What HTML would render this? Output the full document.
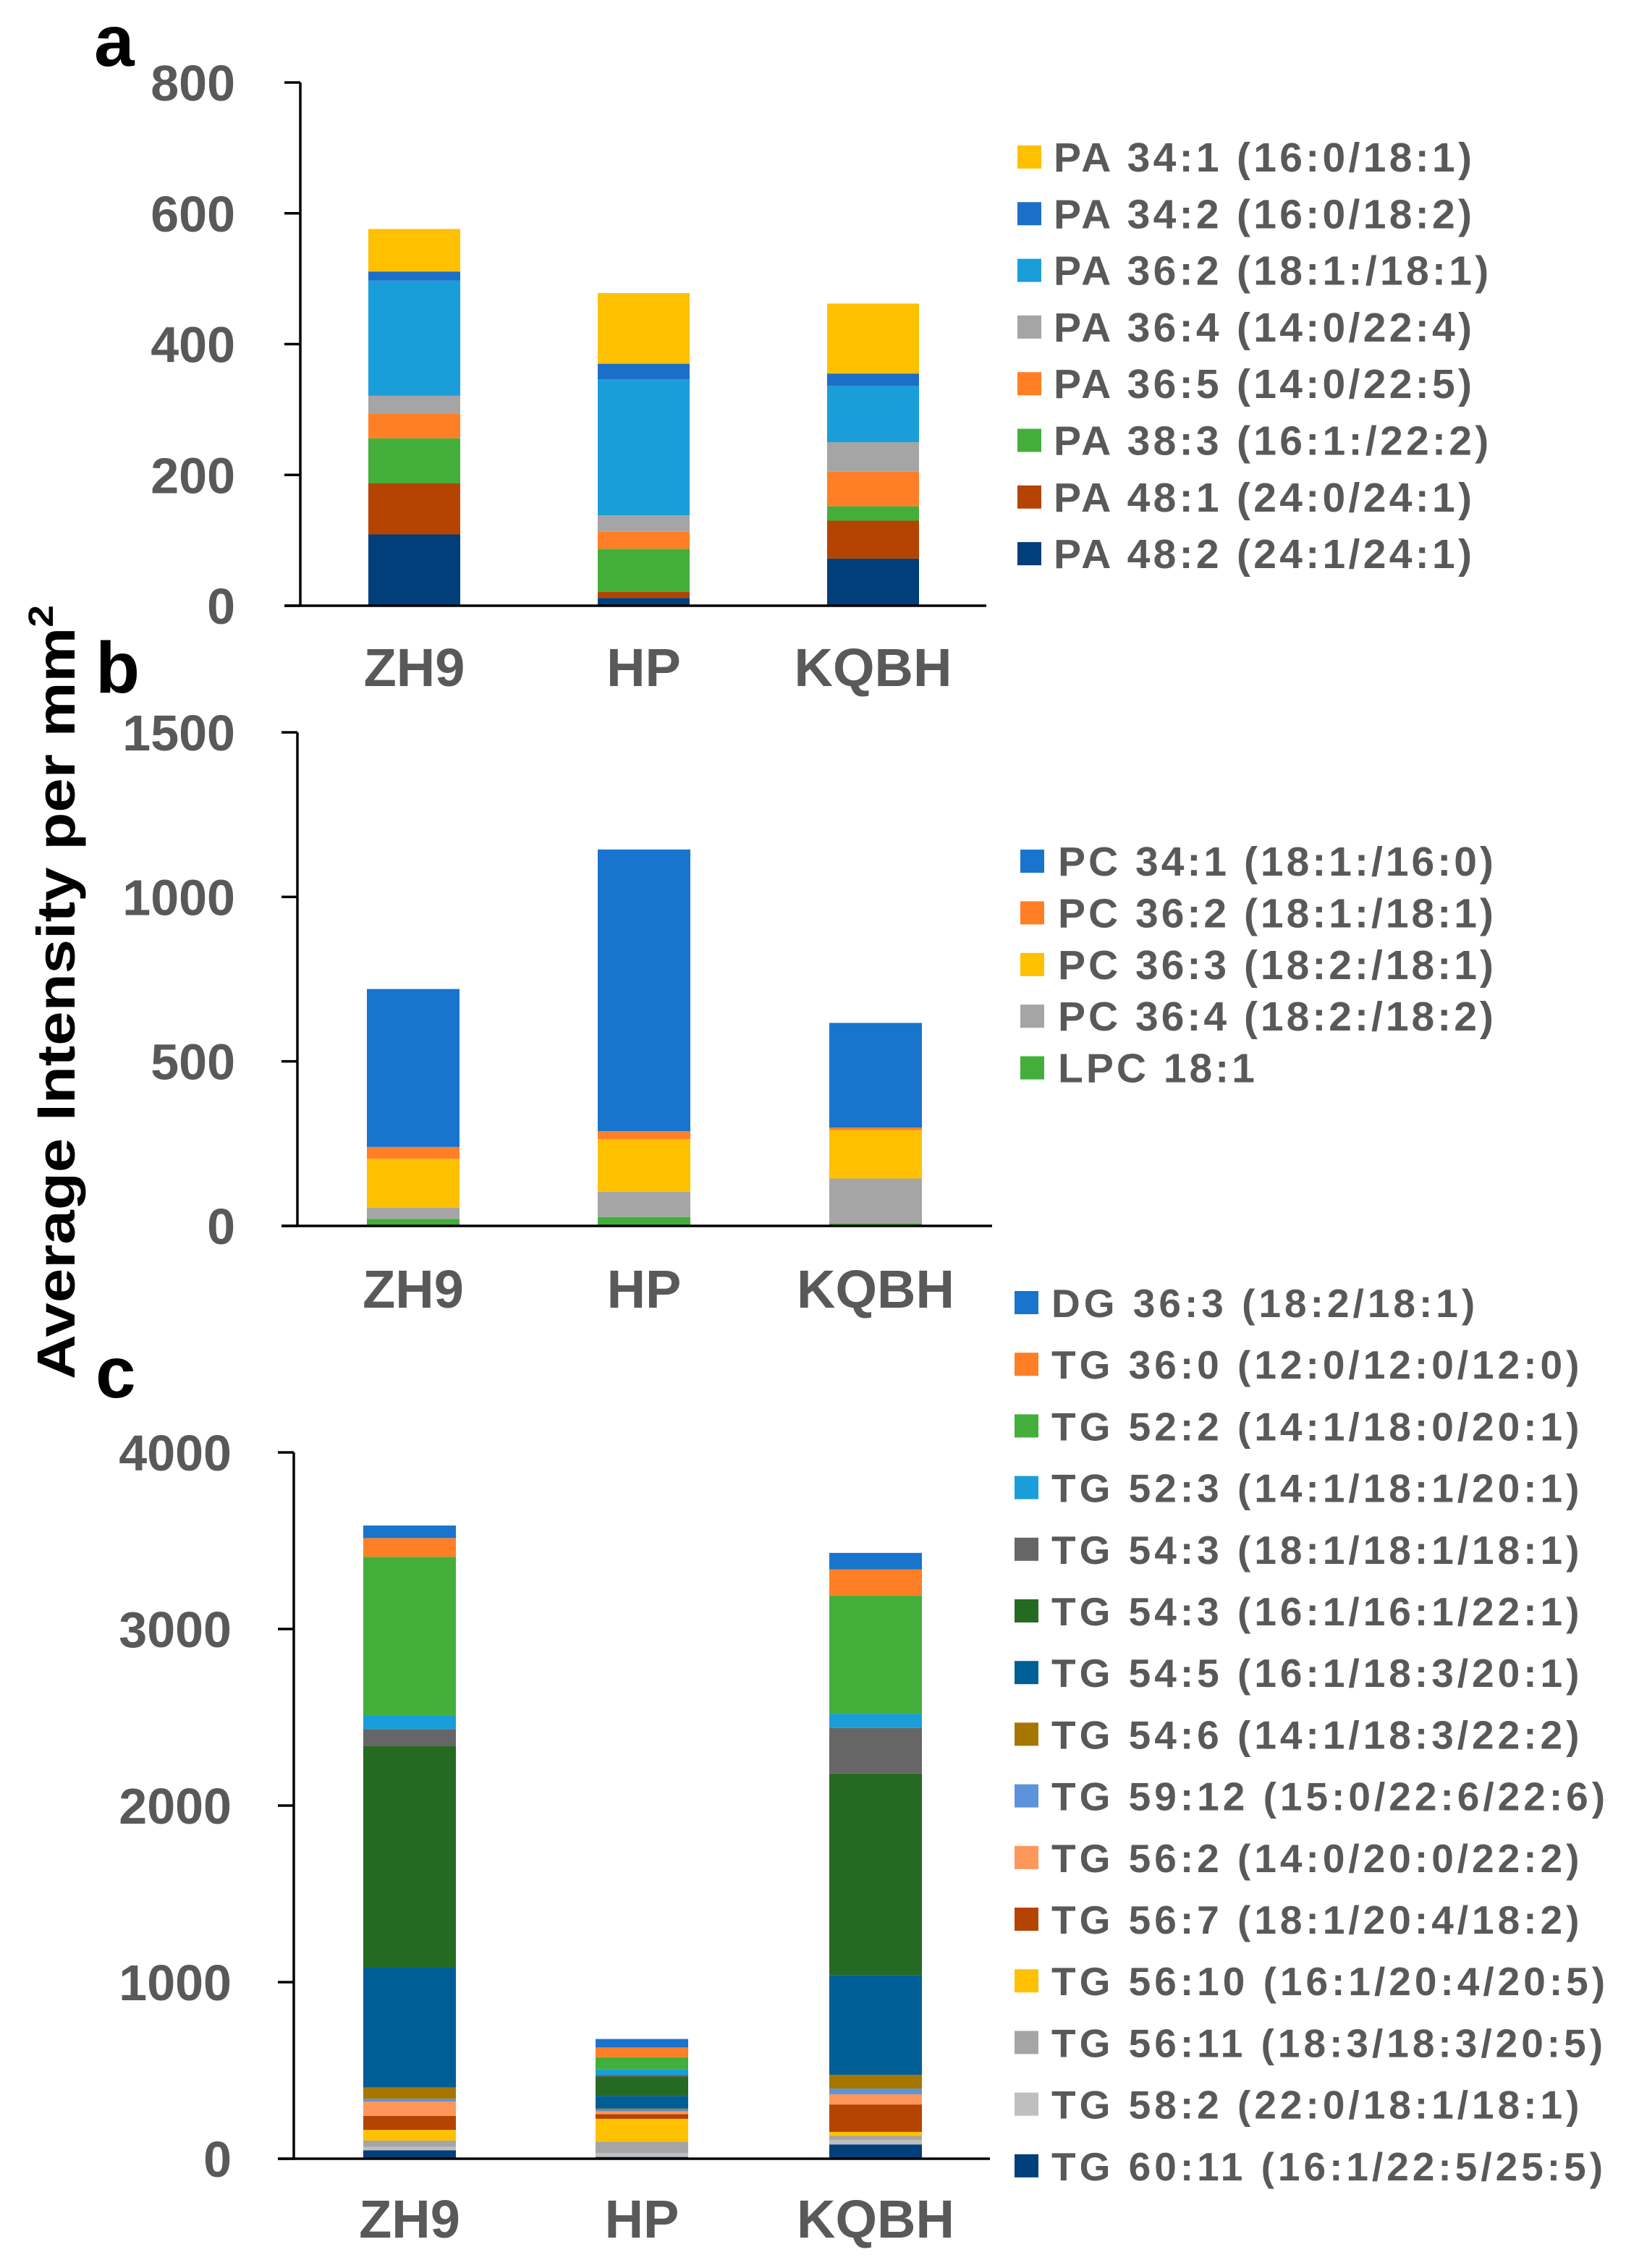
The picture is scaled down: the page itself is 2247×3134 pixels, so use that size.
<!DOCTYPE html>
<html><head><meta charset="utf-8"><style>
html,body{margin:0;padding:0;background:#fff;}
svg{display:block;}
text{font-family:"Liberation Sans",Arial,sans-serif;font-weight:bold;}
</style></head>
<body>
<svg id="fig" width="2247" height="3134" viewBox="0 0 2247 3134" xmlns="http://www.w3.org/2000/svg">
<text x="0" y="0" font-size="74" fill="#000" transform="translate(103,1906) rotate(-90)" textLength="1070" lengthAdjust="spacingAndGlyphs">Average Intensity  per mm<tspan font-size="48" dy="-30">2</tspan></text>
<text x="130" y="91" font-size="100" fill="#000">a</text>
<text x="132" y="957" font-size="100" fill="#000">b</text>
<text x="132" y="1931" font-size="100" fill="#000">c</text>
</svg>
<script>
const categories = ["ZH9","HP","KQBH"];
// Panel a (bottom-up order)
const paSeries = ["PA 48:2 (24:1/24:1)","PA 48:1 (24:0/24:1)","PA 38:3 (16:1:/22:2)","PA 36:5 (14:0/22:5)","PA 36:4 (14:0/22:4)","PA 36:2 (18:1:/18:1)","PA 34:2 (16:0/18:2)","PA 34:1 (16:0/18:1)"];
const paColors = ["#003F7A","#B54402","#43AF3A","#FF7F27","#A5A5A5","#1A9ED9","#1C6FC8","#FFC000"];
const paZH9 = [109,78,69,38,27,176,14,65];
const paHP = [12,9,66,26,25,208,24,108];
const paKQBH = [72,58,22,53,45,86,19,107];
const paTicks = [0,200,400,600,800];
// Panel b
const pcSeries = ["LPC 18:1","PC 36:4 (18:2:/18:2)","PC 36:3 (18:2:/18:1)","PC 36:2 (18:1:/18:1)","PC 34:1 (18:1:/16:0)"];
const pcColors = ["#43AF3A","#A5A5A5","#FFC000","#FF7F27","#1874CD"];
const pcZH9 = [21,34,149,36,480];
const pcHP = [27,77,160,24,856];
const pcKQBH = [8,136,147,8,318];
const pcTicks = [0,500,1000,1500];
// Panel c
const tgSeries = ["TG 60:11 (16:1/22:5/25:5)","TG 58:2 (22:0/18:1/18:1)","TG 56:11 (18:3/18:3/20:5)","TG 56:10 (16:1/20:4/20:5)","TG 56:7 (18:1/20:4/18:2)","TG 56:2 (14:0/20:0/22:2)","TG 59:12 (15:0/22:6/22:6)","TG 54:6 (14:1/18:3/22:2)","TG 54:5 (16:1/18:3/20:1)","TG 54:3 (16:1/16:1/22:1)","TG 54:3 (18:1/18:1/18:1)","TG 52:3 (14:1/18:1/20:1)","TG 52:2 (14:1/18:0/20:1)","TG 36:0 (12:0/12:0/12:0)","DG 36:3 (18:2/18:1)"];
const tgColors = ["#003F7A","#BFBFBF","#A5A5A5","#FFC000","#B54402","#FF975A","#5C93DB","#A77600","#005E96","#256A23","#666666","#1A9ED9","#43AF3A","#FF7F27","#1874CD"];
const tgZH9 = [48,20,35,60,80,80,16,65,678,1254,97,77,899,106,71];
const tgHP = [10,22,65,129,26,16,8,8,71,110,10,32,68,55,48];
const tgKQBH = [81,25,23,23,155,58,32,78,565,1141,258,81,669,149,93];
const tgTicks = [0,1000,2000,3000,4000];

const NS = "http://www.w3.org/2000/svg";
const svg = document.getElementById("fig");
function mk(tag, attrs, parent){
  const e = document.createElementNS(NS, tag);
  for (const k in attrs) e.setAttribute(k, attrs[k]);
  (parent||svg).appendChild(e);
  return e;
}

function panel(cfg){
  const g = mk("g", {});
  
  
  const max = cfg.ticks[cfg.ticks.length-1];
  const yScale = v => cfg.y0 - (v/max)*(cfg.y0-cfg.yTop);
  cfg.values.forEach((vals, ci) => {
    let cum = 0;
    const left = cfg.barX[ci];
    vals.forEach((v, si) => {
      const yb = yScale(cum), yt = yScale(cum+v);
      cum += v;
      const r = mk("rect", {x:left, y:yt, width:cfg.barW, height:Math.max(0,yb-yt), fill:cfg.colors[si]}, g);
      
      
    });
    const t = mk("text", {x:left+cfg.barW/2, y:cfg.xLabY, "font-size":74, fill:"#595959", "text-anchor":"middle"}, g);
    t.textContent = categories[ci];
    
    
  });
  const ax = mk("line", {x1:cfg.axX, y1:cfg.yTop, x2:cfg.axX, y2:cfg.y0, stroke:"#000", "stroke-width":3.5}, g);
  
  
  const bx = mk("line", {x1:cfg.axX-22, y1:cfg.y0, x2:cfg.axEnd, y2:cfg.y0, stroke:"#000", "stroke-width":3.5}, g);
  
  
  cfg.ticks.forEach(tv => {
    const y = yScale(tv);
    const tk = mk("line", {x1:cfg.axX-22, y1:y, x2:cfg.axX, y2:y, stroke:"#000", "stroke-width":3.5}, g);
    
    
    const tl = mk("text", {x:cfg.tickR, y:y+25, "font-size":70, fill:"#595959", "text-anchor":"end"}, g);
    tl.textContent = tv;
    
    
  });
  const lg = mk("g", {}, g);
  
  
  cfg.legOrder.forEach((si, i) => {
    const cy = cfg.legY + i*cfg.legDy;
    const sw = mk("rect", {x:cfg.swX, y:cy-16, width:33, height:32, fill:cfg.colors[si]}, lg);
    
    
    const tx = mk("text", {x:cfg.txX, y:cy+20, "font-size":cfg.legFs, fill:"#595959", "letter-spacing":cfg.ls}, lg);
    tx.textContent = cfg.series[si];
    
    
  });
}

panel({name:"panel-a-chart", series:paSeries, colors:paColors, values:[paZH9,paHP,paKQBH], ticks:paTicks,
  y0:837, yTop:114, axX:415, axEnd:1363, barX:[509,826,1143], barW:127, tickR:325, xLabY:948,
  legOrder:[7,6,5,4,3,2,1,0], legY:217, legDy:78.3, swX:1406, txX:1456, legFs:57, ls:4.3});
panel({name:"panel-b-chart", series:pcSeries, colors:pcColors, values:[pcZH9,pcHP,pcKQBH], ticks:pcTicks,
  y0:1694, yTop:1012, axX:411, axEnd:1371, barX:[507,826,1146], barW:128, tickR:325, xLabY:1807,
  legOrder:[4,3,2,1,0], legY:1190, legDy:71.4, swX:1410, txX:1462, legFs:57, ls:4.0});
panel({name:"panel-c-chart", series:tgSeries, colors:tgColors, values:[tgZH9,tgHP,tgKQBH], ticks:tgTicks,
  y0:2983, yTop:2007, axX:406, axEnd:1368, barX:[502,823,1146], barW:128, tickR:320, xLabY:3092,
  legOrder:[14,13,12,11,10,9,8,7,6,5,4,3,2,1,0], legY:1800, legDy:85.2, swX:1402, txX:1453, legFs:55, ls:5.0});
</script>
</body></html>
